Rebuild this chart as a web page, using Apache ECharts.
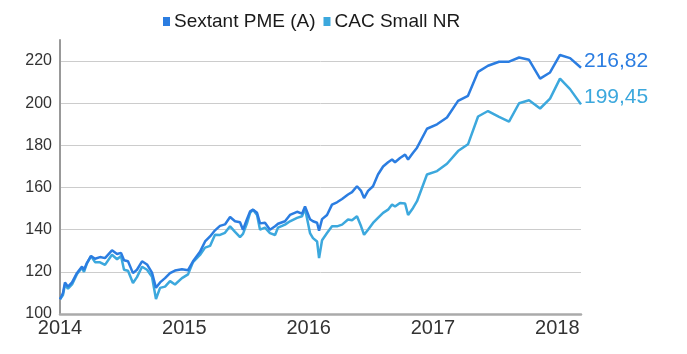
<!DOCTYPE html>
<html><head><meta charset="utf-8">
<script src="https://cdn.jsdelivr.net/npm/echarts@6/dist/echarts.min.js"></script>
<style>html,body{margin:0;padding:0;background:#fff}#c{width:687px;height:354px}</style>
</head><body><div id="c"></div>
<script>
// decimal years
const dates = [2014.000,2014.024,2014.040,2014.064,2014.097,2014.137,2014.177,2014.193,2014.217,2014.249,
2014.282,2014.322,2014.362,2014.418,2014.459,2014.491,2014.515,2014.547,2014.587,2014.619,
2014.660,2014.700,2014.740,2014.772,2014.805,2014.845,2014.885,2014.925,2014.981,2015.030,
2015.070,2015.126,2015.167,2015.207,2015.247,2015.287,2015.327,2015.368,2015.408,2015.448,
2015.472,2015.504,2015.529,2015.553,2015.585,2015.609,2015.649,2015.689,2015.730,2015.754,
2015.810,2015.850,2015.907,2015.947,2015.971,2016.011,2016.035,2016.068,2016.084,2016.108,
2016.148,2016.188,2016.228,2016.269,2016.317,2016.349,2016.389,2016.422,2016.446,2016.478,
2016.518,2016.558,2016.599,2016.639,2016.671,2016.695,2016.735,2016.776,2016.800,2016.840,
2016.872,2016.952,2017.033,2017.113,2017.202,2017.282,2017.363,2017.443,2017.532,2017.612,
2017.693,2017.773,2017.862,2017.942,2018.022,2018.103,2018.191];
const sextant = [107,110,115,113,115,119.5,122.5,121,124.3,127.5,
126.2,127,126.5,130.2,128.5,129,125.5,125,119.4,121,
125,123.5,119.6,112.4,115,117,119.4,120.6,121.2,120.8,
125,129.5,134.4,136.8,139.7,141.8,142.5,146,144,143.5,
140,145,148.7,149.5,148,143,143.3,140,141.6,142.8,
144,147,148.5,147.6,151,145,144,143.3,139.5,145,
147,151.9,153,154.6,156.7,157.8,160.6,158.4,155,158.4,
160.6,166.2,170,172,173.3,172,174,175.6,173.3,176.5,
178.9,187.9,190,193.2,201.1,203.5,214.9,217.8,219.7,219.7,
221.7,220.6,211.7,214.6,222.9,221.4,216.82];
const cacSmall = [107,109,114,112,114,119,122,120,124,127.5,
124.6,124.5,123.3,128.1,126,127.5,121,120.5,114.7,117.5,
122.4,121,117.7,107.1,112.4,113,115.6,114,117,118.8,
124.6,128,131.5,132.3,137.6,137.5,138.5,141.6,139,136.5,
138,143,148,149.5,147,140,141,138.4,137.5,141,
142.4,144,145.6,146.4,150,138.4,136,134.4,126.5,135,
138.4,141.6,141.6,142.4,144.8,144.5,146.4,141.6,137.6,140,
143.2,145.6,148,149.5,152,151,152.7,152.4,147,150.3,
153.5,166.2,167.8,171.3,177.3,180.5,193.7,196.3,193.5,191.3,
200,201.4,197.5,202.2,211.7,206.7,199.45];
const seriesNames = ['Sextant PME (A)', 'CAC Small NR'];
const colors = ['#2b7de1', '#3ca8dd'];
const yTicks = [100,120,140,160,180,200,220];
const xTicks = [2014,2015,2016,2017,2018];

const FONT = '"Liberation Sans", Arial, sans-serif';
const fmt = v => v.toFixed(2).replace('.', ',');
const mk = (vals) => dates.map((d, i) => [d, vals[i]]);

const chart = echarts.init(document.getElementById('c'));
chart.setOption({
  animation: false,
  textStyle: { fontFamily: FONT },
  legend: {
    top: 7, left: 158,
    icon: 'rect', itemWidth: 7, itemHeight: 9, itemGap: 8,
    textStyle: { fontFamily: FONT, fontSize: 19, color: '#1a1a1a', padding: [0,0,0,-1] },
    data: seriesNames
  },
  grid: { left: 60, right: 106, top: 40, bottom: 40 },
  xAxis: {
    type: 'value', min: dates[0], max: dates[dates.length - 1], interval: 1,
    axisLine: { lineStyle: { color: '#aaaaaa', width: 2.5 } },
    axisTick: { show: false },
    splitLine: { show: false },
    axisLabel: { showMaxLabel: false, fontSize: 20, color: '#333', margin: 4, fontFamily: FONT,
      formatter: v => xTicks.includes(Math.round(v)) ? String(Math.round(v)) : '' }
  },
  yAxis: {
    type: 'value', min: yTicks[0], max: 230, interval: 20,
    axisLine: { show: true, lineStyle: { color: '#999999', width: 2 } },
    axisTick: { show: false },
    splitLine: { show: true, showMaxLine: false, lineStyle: { color: '#cccccc', width: 1 } },
    axisLabel: { showMaxLabel: false, fontSize: 16, color: '#333', margin: 8, fontFamily: FONT }
  },
  series: [sextant, cacSmall].map((vals, i) => ({
    name: seriesNames[i], type: 'line', data: mk(vals),
    showSymbol: false, symbol: 'none',
    lineStyle: { color: colors[i], width: 2.5 },
    itemStyle: { color: colors[i] },
    z: 3 - i,
    endLabel: { show: true, formatter: p => fmt(p.value[1]), color: colors[i],
      fontSize: 21, fontFamily: FONT, distance: 3, offset: [0, -7] }
  }))
});
</script></body></html>
